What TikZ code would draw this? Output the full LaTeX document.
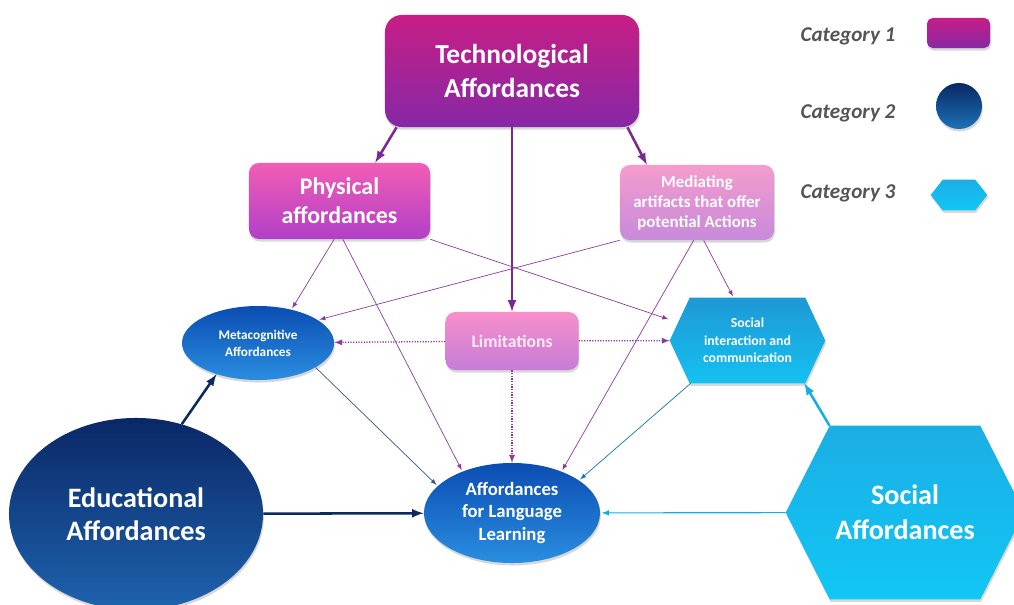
\documentclass[tikz,border=0pt]{standalone}
\usepackage{fontspec}
\setmainfont{Carlito}
\usetikzlibrary{shapes.geometric,shadows,backgrounds}
\definecolor{techtop}{HTML}{C71E85}
\definecolor{techbot}{HTML}{8628A6}
\definecolor{phystop}{HTML}{F25DB5}
\definecolor{physbot}{HTML}{B13FC9}
\definecolor{medtop}{HTML}{F59CCD}
\definecolor{medbot}{HTML}{C78ADB}
\definecolor{limtop}{HTML}{F78FCB}
\definecolor{limbot}{HTML}{C67CD8}
\definecolor{bluetop}{HTML}{0B4DB2}
\definecolor{bluebot}{HTML}{2A8EE0}
\definecolor{edutop}{HTML}{0A2766}
\definecolor{edubot}{HTML}{1E63AE}
\definecolor{sitop}{HTML}{1E98D5}
\definecolor{sibot}{HTML}{14C1F1}
\definecolor{satop}{HTML}{1BAEE5}
\definecolor{sabot}{HTML}{11C7F4}
\definecolor{purpleline}{HTML}{7B2890}
\definecolor{linkpurple}{HTML}{8C3C9E}
\definecolor{navyline}{HTML}{0B2A60}
\definecolor{cyanline}{HTML}{14AEE6}
\definecolor{keygray}{HTML}{555555}
\tikzset{
  shade3d/.style={drop shadow={shadow xshift=.6pt,shadow yshift=-1.8pt,opacity=.3}},
  box/.style={rectangle,rounded corners=7pt,inner sep=0pt,align=center,text=white,shade3d},
  oval/.style={ellipse,inner sep=0pt,align=center,text=white,shade3d},
  hexbox/.style={rectangle,inner sep=0pt,align=center,text=white},
  techarrow/.style={-latex,line width=1.8pt,purpleline},
  link/.style={-latex,line width=.5pt,linkpurple,shorten >=1pt},
  limlink/.style={-latex,densely dotted,line width=.9pt,linkpurple},
  edulink/.style={-latex,line width=1.8pt,navyline},
  keytext/.style={font=\fontsize{15}{18}\selectfont\bfseries\itshape,text=keygray}
}

\begin{document}
\begin{tikzpicture}[x=0.025cm,y=-0.025cm]
  \useasboundingbox (0,0) rectangle (1014,605);

  \node [box, rounded corners=12pt, minimum width=6.35cm, minimum height=2.8cm,
         top color=techtop, bottom color=techbot,
         font=\fontsize{19.5}{23.5}\selectfont\bfseries] (tech) at (512,71) {Technological\\Affordances};
  \node [box, minimum width=4.525cm, minimum height=1.9cm, top color=phystop, bottom color=physbot,
         font=\fontsize{17}{20.5}\selectfont\bfseries] (phys) at (339.5,201) {Physical\\affordances};
  \node [box, minimum width=3.85cm, minimum height=1.875cm, top color=medtop, bottom color=medbot,
         font=\fontsize{12}{14.2}\selectfont\bfseries] (med) at (697,202.5) {Mediating\\artifacts that offer\\potential Actions};
  \node [box, minimum width=3.325cm, minimum height=1.45cm, top color=limtop, bottom color=limbot,
         text=white!92!magenta, font=\fontsize{12.5}{15}\selectfont\bfseries] (lim) at (512,341) {Limitations};

  \node [oval, minimum width=3.8cm, minimum height=1.85cm, top color=bluetop, bottom color=bluebot,
         font=\fontsize{9.4}{12}\selectfont\bfseries] (meta) at (258,343) {Metacognitive\\Affordances};
  \node [oval, minimum width=4.4cm, minimum height=2.5cm, top color=bluetop, bottom color=bluebot,
         font=\fontsize{13.3}{16.3}\selectfont\bfseries] (all) at (512,513) {Affordances\\for Language\\Learning};
  \node [oval, minimum width=6.35cm, minimum height=4.8cm, top color=edutop, bottom color=edubot,
         font=\fontsize{20}{23.5}\selectfont\bfseries] (edu) at (136,514) {Educational\\Affordances};

  \node [hexbox, minimum width=3.875cm, minimum height=2.125cm,
         font=\fontsize{9.8}{12.4}\selectfont\bfseries] (socint) at (747.5,340.5) {Social\\interaction and\\communication};
  \node [hexbox, minimum width=5.95cm, minimum height=4.325cm,
         font=\fontsize{20}{25}\selectfont\bfseries] (socaff) at (905,512.5) {Social\\Affordances};

  % key
  \node [keytext] (cat1) at (848,36) {Category 1};
  \node [keytext] (cat2) at (848,113) {Category 2};
  \node [keytext] (cat3) at (848,193) {Category 3};
  \node [box, rounded corners=4pt, minimum width=1.575cm, minimum height=.75cm,
         top color=techtop, bottom color=techbot] (key1) at (958.5,33) {};
  \node [oval, minimum size=1.15cm, top color=edutop, bottom color=edubot!90!cyan] (key2) at (959,106) {};
  \node [hexbox, minimum width=1.4cm, minimum height=.75cm] (key3) at (959,195) {};

  \begin{scope}[on background layer]
    \fill [white] (0,0) rectangle (1014,605);
    \shade [shade3d, top color=sitop, bottom color=sibot]
      (socint.west) -- ([xshift=.5cm]socint.north west) -- ([xshift=-.5cm]socint.north east)
      -- (socint.east) -- ([xshift=-.5cm]socint.south east) -- ([xshift=.5cm]socint.south west) -- cycle;
    \shade [shade3d, top color=satop, bottom color=sabot]
      (socaff.west) -- ([xshift=1.1cm]socaff.north west) -- ([xshift=-1.1cm]socaff.north east)
      -- (socaff.east) -- ([xshift=-1.1cm]socaff.south east) -- ([xshift=1.1cm]socaff.south west) -- cycle;
    \shade [shade3d, top color=satop, bottom color=sabot]
      (key3.west) -- ([xshift=.3cm]key3.north west) -- ([xshift=-.3cm]key3.north east)
      -- (key3.east) -- ([xshift=-.3cm]key3.south east) -- ([xshift=.3cm]key3.south west) -- cycle;
  \end{scope}

  \draw [techarrow] (tech.206.6) -- (phys.47);
  \draw [techarrow] (tech.-26) -- (med.143);
  \draw [techarrow] (tech) -- (lim);

  \draw [link] (phys.-98) -- (meta.45);
  \draw [link] (phys.-85) -- (all.140);
  \draw [link] (phys.south east) -- (socint.165);
  \draw [link] (med.south west) -- (meta.21);
  \draw [link] (med.-95) -- (all.40);
  \draw [link] (med.-80) -- (socint.108);

  \draw [limlink] (lim) -- (meta);
  \draw [limlink] (lim) -- (socint);
  \draw [limlink] (lim) -- (all);

  \draw [link, color=navyline!80] (meta.-23) -- (all.160);
  \draw [link, color=cyanline!60!navyline] (socint.-143.5) -- (all.26);

  \draw [edulink] (edu.63) -- (meta.-143);
  \draw [edulink] (edu) -- (all);
  \draw [edulink, color=cyanline] (socaff.131) -- (socint.-37);
  \draw [link, line width=.8pt, color=cyanline] (socaff) -- (all);
\end{tikzpicture}
\end{document}
